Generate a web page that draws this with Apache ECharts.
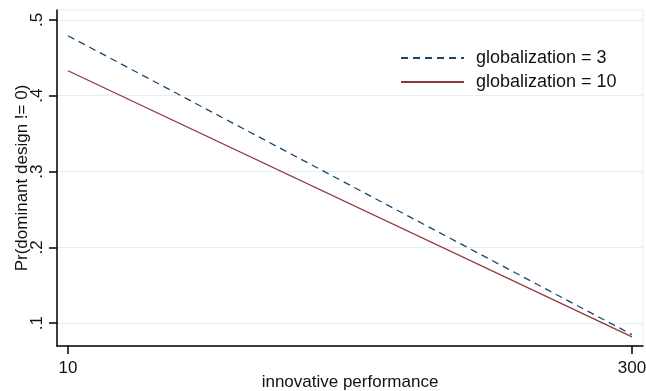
<!DOCTYPE html>
<html>
<head>
<meta charset="utf-8">
<script src="https://cdn.jsdelivr.net/npm/echarts@6/dist/echarts.min.js"></script>
<style>html,body{margin:0;padding:0;background:#fff}#c{width:646px;height:391px}</style>
</head>
<body>
<div id="c"></div>
<script>
const xValues = [10, 300];
const glob3 = [0.479, 0.085];
const glob10 = [0.433, 0.082];
const xTicks = [10, 300];
const yTicks = [0.1, 0.2, 0.3, 0.4, 0.5];
const seriesNames = ['globalization = 3', 'globalization = 10'];

const chart = echarts.init(document.getElementById('c'));
const font = 'Liberation Sans, Arial, sans-serif';
const pair = (xs, ys) => xs.map((x, i) => [x, ys[i]]);
chart.setOption({
  animation: false,
  grid: { left: 57, top: 10, right: 3, bottom: 45, containLabel: false, outerBoundsMode: 'none',
    show: true, borderColor: '#e3ecf2', borderWidth: 1 },
  legend: {
    orient: 'vertical', left: 395, top: 44, itemWidth: 63, itemHeight: 14, itemGap: 6,
    itemStyle: { opacity: 0 },
    textStyle: { fontFamily: font, fontSize: 18, color: '#111', padding: [0, 0, 0, 7] },
    data: seriesNames
  },
  xAxis: {
    type: 'value', min: 4.34, max: 305.66,
    name: 'innovative performance', nameLocation: 'middle', nameGap: 28, nameMoveOverlap: false,
    nameTextStyle: { fontFamily: font, fontSize: 17, color: '#111' },
    axisLine: { show: true, onZero: false, lineStyle: { color: '#000', width: 1.5 } },
    axisTick: { show: true, length: 8, customValues: xTicks, lineStyle: { color: '#000', width: 1.5 } },
    axisLabel: { customValues: xTicks, margin: 14, fontFamily: font, fontSize: 17, color: '#111' },
    splitLine: { show: false }
  },
  yAxis: {
    type: 'value', min: 0.07, max: 0.513,
    name: 'Pr(dominant design != 0)', nameLocation: 'middle', nameRotate: 90, nameGap: 26, nameMoveOverlap: false,
    nameTextStyle: { fontFamily: font, fontSize: 17, color: '#111' },
    axisLine: { show: true, onZero: false, lineStyle: { color: '#000', width: 1.5 } },
    axisTick: { show: true, length: 8, customValues: yTicks, lineStyle: { color: '#000', width: 1.5 } },
    axisLabel: { customValues: yTicks, rotate: 90, margin: 11, fontFamily: font, fontSize: 17, color: '#111',
      formatter: v => String(Math.round(v * 10) / 10).replace(/^0/, '') },
    splitLine: { show: true, customValues: yTicks, lineStyle: { color: '#e6eef4', width: 1 } }
  },
  series: [
    { name: seriesNames[0], type: 'line', data: pair(xValues, glob3), symbol: 'none',
      lineStyle: { color: '#1a476f', width: 1.3, type: [7, 5] }, itemStyle: { color: '#1a476f' } },
    { name: seriesNames[1], type: 'line', data: pair(xValues, glob10), symbol: 'none',
      lineStyle: { color: '#90353b', width: 1.2 }, itemStyle: { color: '#90353b' } }
  ]
});
</script>
</body>
</html>
